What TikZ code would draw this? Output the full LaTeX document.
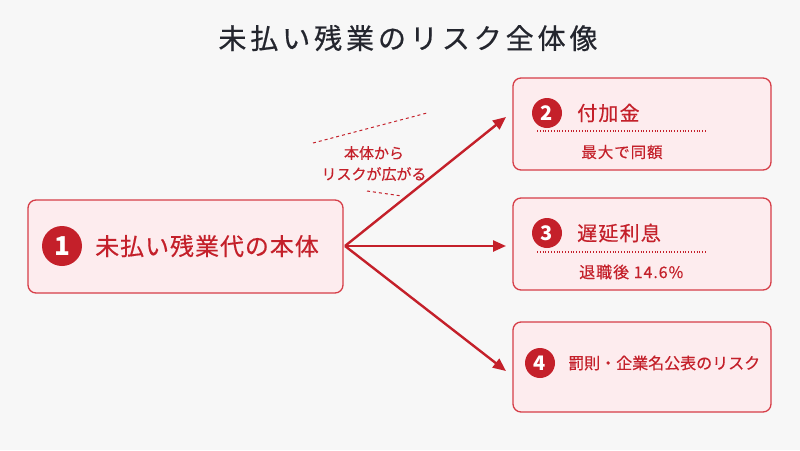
\documentclass[tikz,border=0pt]{standalone}
\usepackage{fontspec}
\setmainfont{Noto Sans CJK JP}
\usetikzlibrary{arrows.meta}
\definecolor{bgc}{RGB}{247,247,247}
\definecolor{boxfill}{RGB}{253,236,238}
\definecolor{boxline}{RGB}{214,62,72}
\definecolor{dred}{RGB}{196,32,42}
\definecolor{ttl}{RGB}{36,38,46}
\tikzset{
  riskbox/.style={draw=boxline, line width=1.3pt, fill=boxfill, rounded corners=8pt},
  numcirc/.style={circle, fill=dred, text=white, inner sep=0pt},
  redtxt/.style={text=dred, inner sep=0pt},
  flow/.style={draw=dred, line width=2.4pt, -{Triangle[length=13pt,width=11pt]}},
  dotline/.style={draw=dred, line width=1.1pt, dash pattern=on 1pt off 1.8pt},
  dashline/.style={draw=dred, line width=1pt, dash pattern=on 3pt off 3pt}
}
\begin{document}
\begin{tikzpicture}[x=1pt,y=-1pt]
\fill[bgc] (0,0) rectangle (800,450);
\useasboundingbox (0,0) rectangle (800,450);
% title
\node[text=ttl, inner sep=0pt, font=\fontsize{28}{30}\selectfont\addfontfeatures{LetterSpace=14,FakeBold=0.6}] (title) at (408,38) {未払い残業のリスク全体像};
% box 1
\node[riskbox, minimum width=315pt, minimum height=93pt] (b1) at (185.5,246.5) {};
\node[numcirc, minimum size=40pt, font=\fontsize{26}{26}\selectfont\bfseries] (c1) at (62,246) {1};
\node[redtxt, anchor=west, font=\fontsize{24}{26}\selectfont\addfontfeatures{LetterSpace=4,FakeBold=0.4}] (t1) at (95,246) {未払い残業代の本体};
% box 2
\node[riskbox, minimum width=258pt, minimum height=92pt] (b2) at (642,124) {};
\node[numcirc, minimum size=30pt, font=\fontsize{20}{20}\selectfont\bfseries] (c2) at (547,113) {2};
\node[redtxt, anchor=west, font=\fontsize{20}{22}\selectfont\addfontfeatures{LetterSpace=6,FakeBold=0.4}] (t2) at (577,113) {付加金};
\coordinate (d2a) at (537,131);
\coordinate (d2b) at (707,131);
\draw[dotline] (d2a) -- (d2b);
\node[redtxt, font=\fontsize{15.5}{17}\selectfont\addfontfeatures{LetterSpace=6,FakeBold=0.3}] (s2) at (622,152) {最大で同額};
% box 3
\node[riskbox, minimum width=258pt, minimum height=92pt] (b3) at (642,244) {};
\node[numcirc, minimum size=30pt, font=\fontsize{20}{20}\selectfont\bfseries] (c3) at (547,233) {3};
\node[redtxt, anchor=west, font=\fontsize{20}{22}\selectfont\addfontfeatures{LetterSpace=6,FakeBold=0.4}] (t3) at (577,233) {遅延利息};
\coordinate (d3a) at (537,252);
\coordinate (d3b) at (707,252);
\draw[dotline] (d3a) -- (d3b);
\node[redtxt, anchor=west, font=\fontsize{16}{18}\selectfont\addfontfeatures{LetterSpace=6,FakeBold=0.3}] (s3) at (579,272) {退職後 14.6\%};
% box 4
\node[riskbox, minimum width=258pt, minimum height=90pt] (b4) at (642,367) {};
\node[numcirc, minimum size=30pt, font=\fontsize{20}{20}\selectfont\bfseries] (c4) at (540,363) {4};
\node[redtxt, anchor=west, font=\fontsize{16}{18}\selectfont\addfontfeatures{FakeBold=0.3}] (t4) at (568,363) {罰則・企業名公表のリスク};
% arrows
\coordinate (src) at (345,246);
\coordinate (e2) at (506,117);
\coordinate (e3) at (506,246);
\coordinate (e4) at (506,371);
\draw[flow] (src) -- (e2);
\draw[flow] (src) -- (e3);
\draw[flow] (src) -- (e4);
% annotation
\coordinate (da1) at (313,143);
\coordinate (da2) at (427,113);
\coordinate (db1) at (367,191);
\coordinate (db2) at (402,196);
\draw[dashline] (da1) -- (da2);
\draw[dashline] (db1) -- (db2);
\node[redtxt, font=\fontsize{15}{17}\selectfont\addfontfeatures{FakeBold=0.3}] (l1) at (374,153) {本体から};
\node[redtxt, font=\fontsize{15}{17}\selectfont\addfontfeatures{FakeBold=0.3}] (l2) at (374,174) {リスクが広がる};
\end{tikzpicture}
\end{document}
